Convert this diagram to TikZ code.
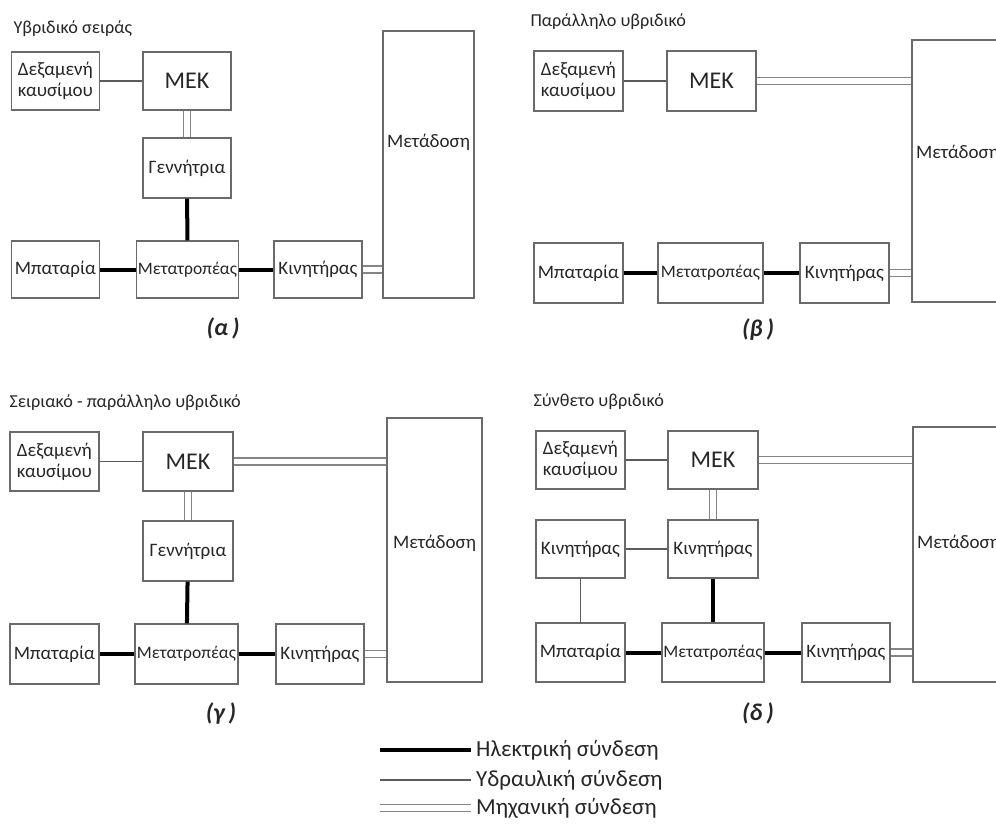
\documentclass[tikz,border=0pt]{standalone}
\usepackage{fontspec}
\setmainfont{Carlito}
\definecolor{cFrame}{HTML}{6A6A6A}
\definecolor{cLink}{HTML}{5C5C5C}
\definecolor{cShaft}{HTML}{858585}
\begin{document}
\begin{tikzpicture}[x=1pt,y=-1pt,font=\fontsize{19}{21}\selectfont,text=black!85,
  blk/.style={draw=cFrame,line width=1.4pt,inner sep=0pt,minimum width=88pt,minimum height=58pt},
  tank/.style={blk,align=left},
  conv/.style={blk,minimum width=102pt,font=\fontsize{17.5}{19}\selectfont},
  engine/.style={blk,font=\fontsize{24}{26}\selectfont},
  elec/.style={line width=4pt,black},
  hydr/.style={line width=1.4pt,cLink},
  mech/.style={draw=cShaft,line width=1.4pt,double=white,double distance=5.5pt},
  ttl/.style={anchor=west,font=\fontsize{18.2}{20}\selectfont},
  tag/.style={font=\fontsize{24}{26}\selectfont\bfseries\itshape}]
\clip (0,0) rectangle (996,827);
% (a) series hybrid
\node[ttl] (ttlA) at (10,29) {Υβριδικό σειράς};
\node[tank] (dexA) at (55.5,81) {Δεξαμενή\\καυσίμου};
\node[engine] (mekA) at (187,81) {ΜΕΚ};
\node[blk,minimum height=60pt] (genA) at (187,168) {Γεννήτρια};
\node[blk,minimum height=57pt] (batA) at (55.5,269.5) {Μπαταρία};
\node[conv,minimum height=57pt] (convA) at (187.5,269.5) {Μετατροπέας};
\node[blk,minimum height=57pt] (motA) at (318,269.5) {Κινητήρας};
\node[blk,minimum width=91pt,minimum height=267pt] (metA) at (428.5,164.5) {};
\node (metTxtA) at (428.5,142) {Μετάδοση};
\draw[hydr] (dexA) -- (mekA);
\draw[mech] (mekA) -- (genA);
\draw[elec] (genA) -- (convA);
\draw[elec] (batA) -- (convA);
\draw[elec] (convA) -- (motA);
\draw[mech] (motA.east) -- (motA.east -| metA.west);
\node[tag] (tagA) at (223,328) {(α\,)};
% (b) parallel hybrid
\node[ttl] (ttlB) at (527,22) {Παράλληλο υβριδικό};
\node[tank,minimum width=89pt,minimum height=60pt] (dexB) at (578.5,81) {Δεξαμενή\\καυσίμου};
\node[engine,minimum width=89pt,minimum height=60pt] (mekB) at (711.5,81) {ΜΕΚ};
\node[blk,minimum width=89pt,minimum height=60pt] (batB) at (578.5,273) {Μπαταρία};
\node[conv,minimum width=105pt,minimum height=60pt] (convB) at (710.5,273) {Μετατροπέας};
\node[blk,minimum width=89pt,minimum height=60pt] (motB) at (844.5,273) {Κινητήρας};
\node[blk,minimum width=91pt,minimum height=262pt] (metB) at (957.5,171) {};
\node (metTxtB) at (957.5,153) {Μετάδοση};
\draw[hydr] (dexB) -- (mekB);
\draw[mech] (mekB.east) -- (mekB.east -| metB.west);
\draw[elec] (batB) -- (convB);
\draw[elec] (convB) -- (motB);
\draw[mech] (motB.east) -- (motB.east -| metB.west);
\node[tag] (tagB) at (758,330) {(β\,)};
% (c) series-parallel hybrid
\node[ttl] (ttlC) at (6,403) {Σειριακό - παράλληλο υβριδικό};
\node[tank,minimum width=89pt,minimum height=59pt] (dexC) at (54.5,461.5) {Δεξαμενή\\καυσίμου};
\node[engine,minimum width=90pt,minimum height=59pt] (mekC) at (188,461.5) {ΜΕΚ};
\node[blk,minimum width=90pt,minimum height=60pt] (genC) at (188,551) {Γεννήτρια};
\node[blk,minimum width=89pt,minimum height=60pt] (batC) at (54.5,654) {Μπαταρία};
\node[conv,minimum width=103pt,minimum height=60pt] (convC) at (186.5,654) {Μετατροπέας};
\node[blk,minimum height=60pt] (motC) at (320,654) {Κινητήρας};
\node[blk,minimum width=95pt,minimum height=264pt] (metC) at (434.5,550) {};
\node (metTxtC) at (434.5,543) {Μετάδοση};
\draw[hydr] (dexC) -- (mekC);
\draw[mech] (mekC.east) -- (mekC.east -| metC.west);
\draw[mech] (mekC) -- (genC);
\draw[elec] (genC) -- (convC);
\draw[elec] (batC) -- (convC);
\draw[elec] (convC) -- (motC);
\draw[mech] (motC.east) -- (motC.east -| metC.west);
\node[tag] (tagC) at (221,713) {(γ\,)};
% (d) complex hybrid
\node[ttl] (ttlD) at (530,402) {Σύνθετο υβριδικό};
\node[tank,minimum width=89pt] (dexD) at (580.5,460) {Δεξαμενή\\καυσίμου};
\node[engine,minimum width=90pt] (mekD) at (713,460) {ΜΕΚ};
\node[blk,minimum width=89pt] (motLD) at (580.5,549) {Κινητήρας};
\node[blk,minimum width=90pt] (motMD) at (713,549) {Κινητήρας};
\node[blk,minimum width=89pt,minimum height=59pt] (batD) at (580.5,652.5) {Μπαταρία};
\node[conv,minimum height=59pt] (convD) at (713,652.5) {Μετατροπέας};
\node[blk,minimum height=59pt] (motRD) at (846,652.5) {Κινητήρας};
\node[blk,minimum width=91pt,minimum height=255pt] (metD) at (958.5,554.5) {};
\node (metTxtD) at (958.5,543) {Μετάδοση};
\draw[hydr] (dexD) -- (mekD);
\draw[mech] (mekD.east) -- (mekD.east -| metD.west);
\draw[mech] (mekD) -- (motMD);
\draw[hydr] (motLD) -- (motMD);
\draw[hydr] (motLD) -- (batD);
\draw[elec] (motMD) -- (convD);
\draw[elec] (batD) -- (convD);
\draw[elec] (convD) -- (motRD);
\draw[mech] (motRD.east) -- (motRD.east -| metD.west);
\node[tag] (tagD) at (758,713) {(δ\,)};
% legend
\foreach \y/\kind/\txt [count=\i] in {750/elec/Ηλεκτρική σύνδεση,780/hydr/Υδραυλική σύνδεση,808/mech/Μηχανική σύνδεση}{
  \coordinate (keyStart\i) at (380,\y);
  \node[anchor=west,inner sep=0pt,font=\fontsize{23}{25}\selectfont] (keyTxt\i) at (476,\y) {\txt};
  \draw[\kind,shorten >=5pt] (keyStart\i) -- (keyTxt\i.west);
}
\end{tikzpicture}
\end{document}
